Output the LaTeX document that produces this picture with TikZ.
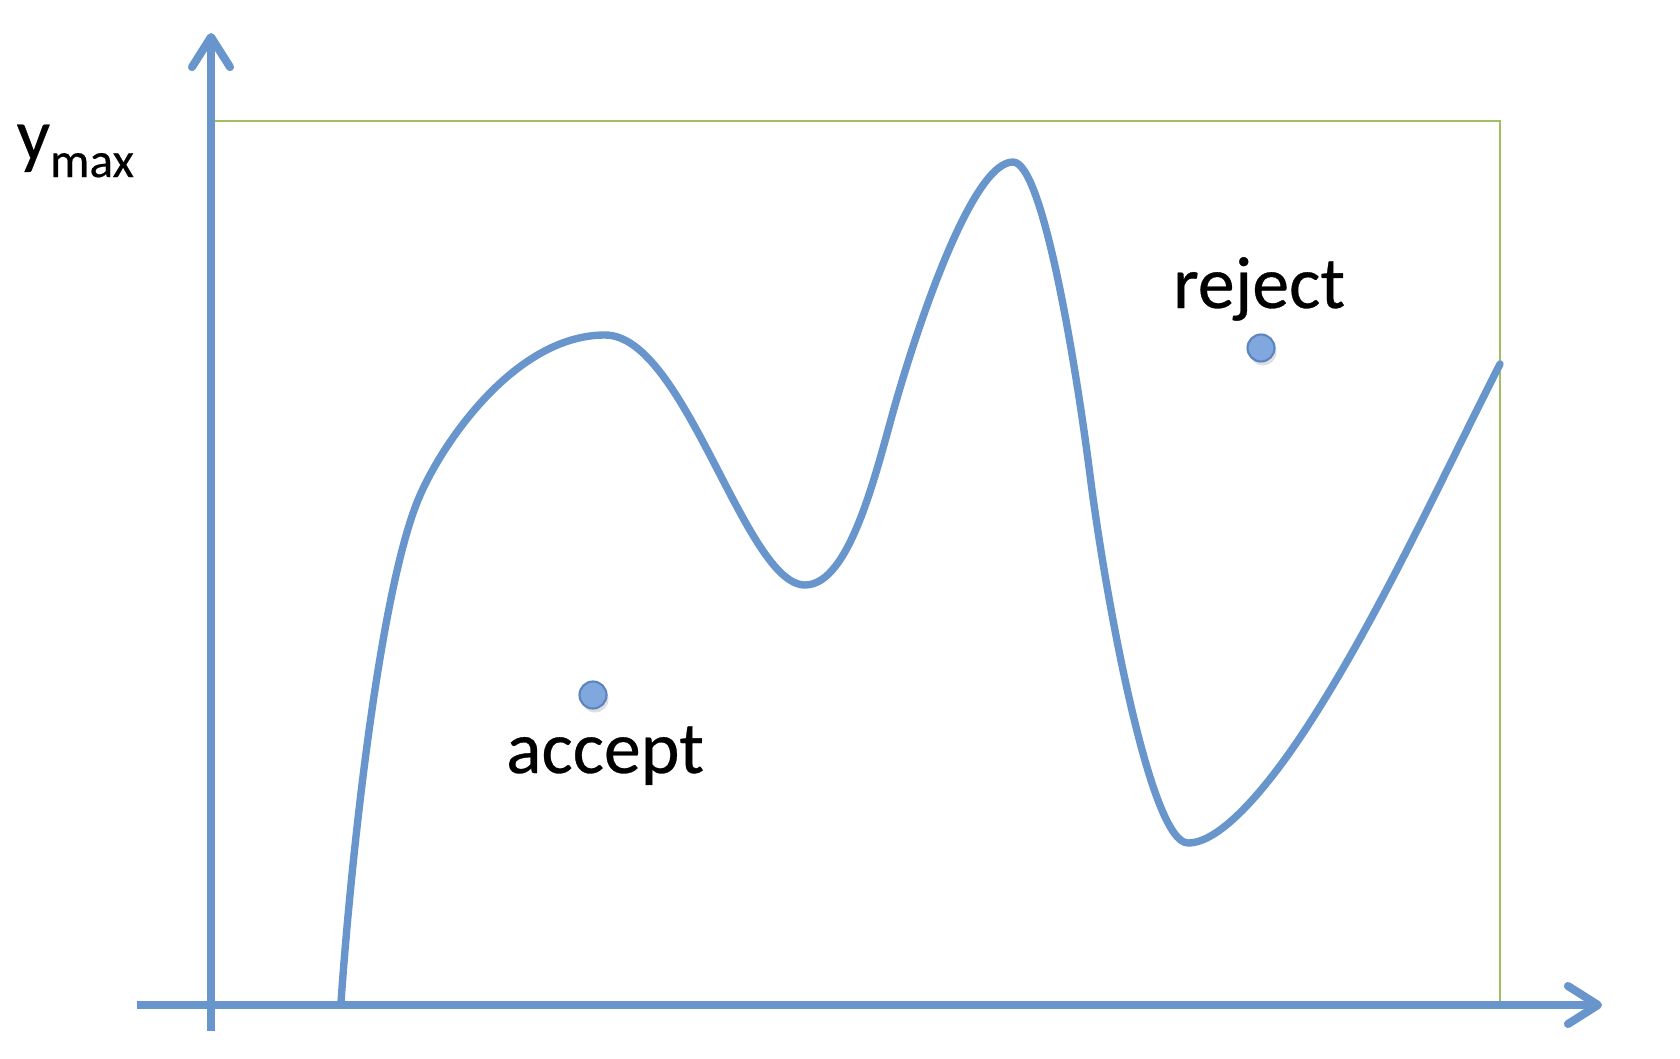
\documentclass[tikz,border=0pt]{standalone}
\usepackage{fontspec}
\setmainfont{Carlito}[FakeBold=0.4]
\usetikzlibrary{arrows.meta,shadows}
\definecolor{axisblue}{RGB}{104,149,204}
\definecolor{boxgreen}{RGB}{160,190,100}
\definecolor{dotfill}{RGB}{128,168,222}
\definecolor{dotedge}{RGB}{92,132,192}
\tikzset{
  axisline/.style={draw=axisblue, line width=2.3pt, -{Straight Barb[length=0.3cm,width=0.38cm,round]}},
  curveline/.style={draw=axisblue, line width=2.1pt, line cap=round, line join=round},
  envline/.style={draw=boxgreen, line width=0.8pt},
  sample/.style={circle, inner sep=0pt, minimum size=0.27cm, fill=dotfill, draw=dotedge, line width=0.6pt,
     drop shadow={opacity=0.25, shadow xshift=0.02cm, shadow yshift=-0.04cm}},
  lbl/.style={anchor=base, inner sep=0pt, font=\fontsize{21}{25}\selectfont}
}
\begin{document}
\begin{tikzpicture}[x=0.01cm, y=-0.01cm]
\useasboundingbox (0,0) rectangle (1680,1058);
% axes
\coordinate (yb) at (211,1031);
\coordinate (yt) at (211,33);
\coordinate (xl) at (137,1005);
\coordinate (xr) at (1602,1005);
% envelope
\coordinate (gtl) at (211,121);
\coordinate (gtr) at (1500,121);
\coordinate (gbr) at (1500,1005);
\draw[envline] (gtl) -- (gtr) -- (gbr);
% curve key points
\coordinate (pa) at (341,1002);
\coordinate (pm) at (418,500);
\coordinate (pc) at (605,335);
\coordinate (pe) at (805,585);
\coordinate (pf) at (895,405);
\coordinate (pg) at (1013,162);
\coordinate (ph) at (1090,475);
\coordinate (pi) at (1188,843);
\coordinate (pk) at (1307,727);
\coordinate (pj) at (1500,364);
\draw[curveline] (pa)
  .. controls (351.5,852) and (380,592.5) .. (pm)
  .. controls (440.8,444.5) and (515,335) .. (pc)
  .. controls (685,335) and (745,585) .. (pe)
  .. controls (850,585) and (876,472) .. (pf)
  .. controls (920,318) and (973,162) .. (pg)
  .. controls (1043,162) and (1076,366) .. (ph)
  .. controls (1105,594) and (1150,843) .. (pi)
  .. controls (1225,843) and (1277,773) .. (pk)
  .. controls (1378,618) and (1441,480) .. (pj);
\draw[axisline] (yb) -- (yt);
\draw[axisline] (xl) -- (xr);
% samples
\node[sample] (acc) at (593,695) {};
\node[sample] (rej) at (1261,348) {};
\node[lbl] (acctext) at (605,773) {accept};
\node[lbl] (rejtext) at (1259,308) {reject};
\node[lbl, anchor=base west] (ymax) at (16,160) {y\raisebox{-0.17cm}{\fontsize{14}{16}\selectfont max}};
\end{tikzpicture}
\end{document}
